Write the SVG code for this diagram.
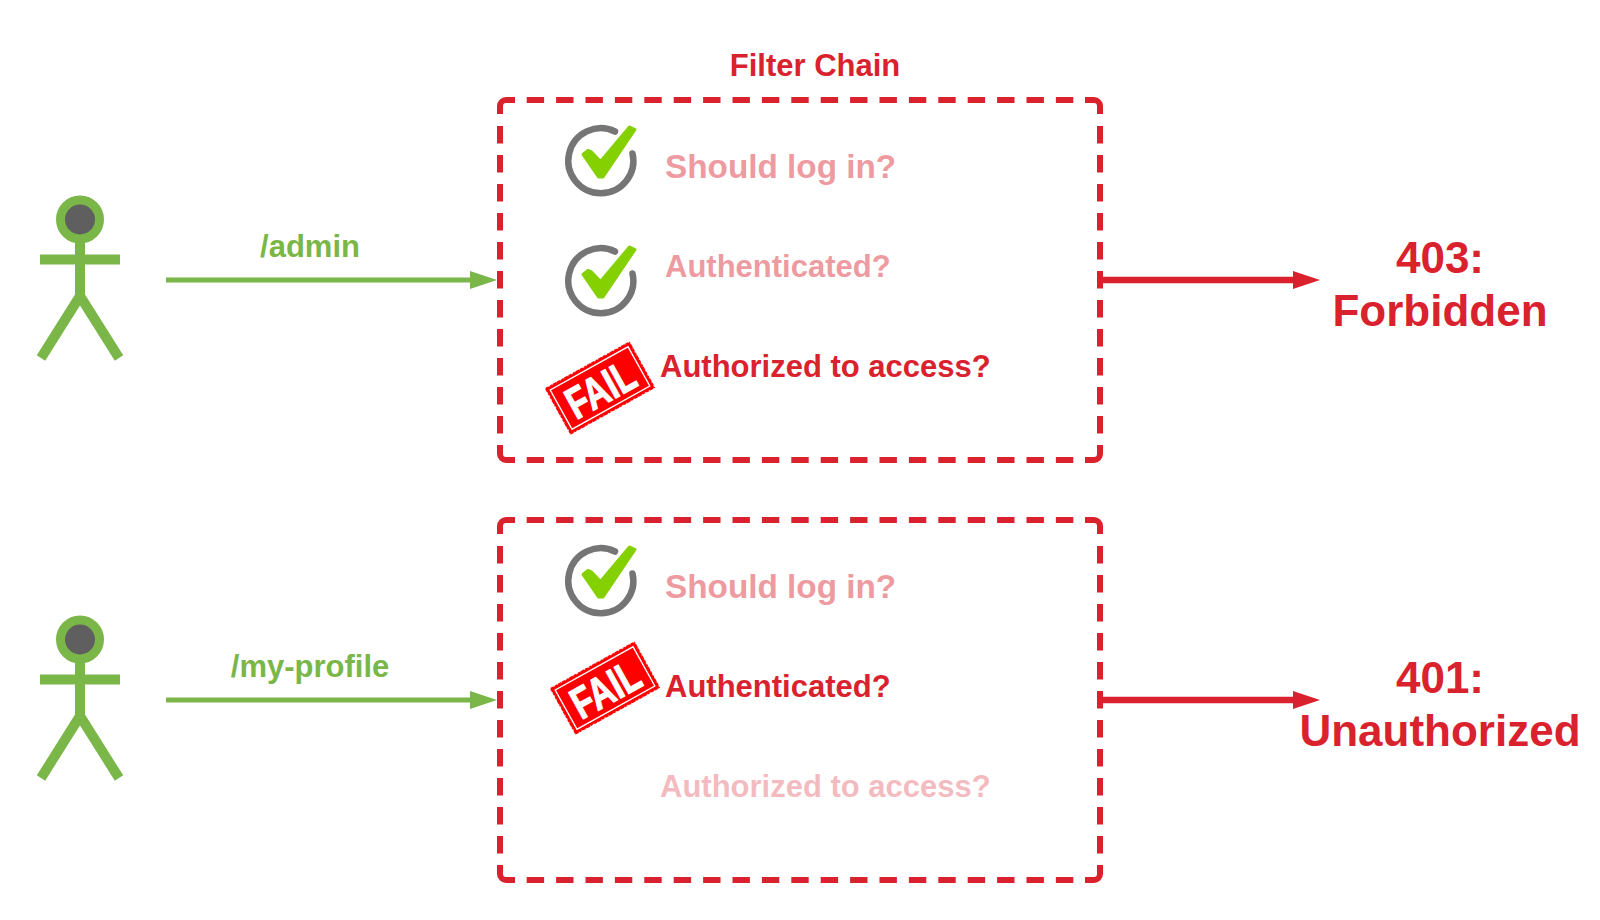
<svg xmlns="http://www.w3.org/2000/svg" width="1600" height="920" viewBox="0 0 1600 920">
<style>
text{font-family:"Liberation Sans",Arial,sans-serif;font-weight:700}
.box{fill:none;stroke:#d9222e;stroke-width:6}
.g{fill:#7ab648}
.r{fill:#d9222e}
.t{font-size:31px;fill:#d9222e}
.s{font-size:33.300px;fill:#d9222e}
.big{font-size:44px;fill:#d9222e;text-anchor:middle}
.lbl{font-size:31px;fill:#7ab648;text-anchor:middle}
.ga{stroke:#7ab648;stroke-width:5;fill:none}
.ra{stroke:#d9222e;stroke-width:6.500;fill:none}
</style>
<defs>
<g id="actor">
<path d="M80 240V296M40 259.500H120M80 296L41 358M80 296L119 358" fill="none" stroke="#7ab648" stroke-width="10"/>
<circle cx="80" cy="219.500" r="19.500" fill="#5f5f5f" stroke="#7ab648" stroke-width="9"/>
</g>
<g id="check">
<path d="M615 131.500A32.500 32.500 0 1 0 632.500 153.500" fill="none" stroke="#757575" stroke-width="6.500" stroke-linecap="round"/>
<path d="M583 154.500L588 150.500L591.500 152L600.500 161.500L629.500 127L635 129.500L603 177L598.500 177Z" fill="#84d000" stroke="#84d000" stroke-width="3" stroke-linejoin="round"/>
</g>
<g id="fail">
<g transform="rotate(-29 600 388)">
<rect x="551.500" y="361.500" width="97" height="53" fill="#fe0000"/>
<rect x="551.500" y="361.500" width="97" height="53" fill="none" stroke="#fff" stroke-width="1.500" stroke-dasharray="1 3 2 2 1 4" opacity=".8"/>
<rect x="555.500" y="365.500" width="89" height="45" fill="none" stroke="#fff" stroke-width="1.300"/>
<text transform="translate(600 404.500) scale(.76 1)" font-size="44" fill="#fff" stroke="#fff" stroke-width="1.200" text-anchor="middle">FAIL</text>
</g>
</g>
<g id="dashbox">
<path class="box" d="M515 100H506A6 6 0 0 0 500 106V114M1085 100H1094A6 6 0 0 1 1100 106V114M515 460H506A6 6 0 0 1 500 454V445M1085 460H1094A6 6 0 0 0 1100 454V445"/>
<path class="box" stroke-dasharray="17.400 12" d="M526.700 100H1073.500M526.700 460H1073.500"/>
<path class="box" stroke-dasharray="17.500 11.500" d="M500 126V433.500M1100 126V433.500"/>
</g>
</defs>
<g id="title"><text x="815" y="76" font-size="31" fill="#d9222e" text-anchor="middle">Filter Chain</text></g>
<g id="connectors">
<path class="ga" d="M166 280H476"/><path class="g" d="M470 271L497 280L470 289Z"/>
<path class="ga" d="M166 700H476"/><path class="g" d="M470 691L497 700L470 709Z"/>
<path class="ra" d="M1100 280H1300"/><path class="r" d="M1293 271L1320 280L1293 289Z"/>
<path class="ra" d="M1100 700H1300"/><path class="r" d="M1293 691L1320 700L1293 709Z"/>
</g>
<g id="actor-admin"><use href="#actor"/></g>
<g id="actor-profile"><use href="#actor" y="420"/></g>
<g id="label-admin"><text class="lbl" x="310" y="256.500">/admin</text></g>
<g id="label-profile"><text class="lbl" x="310" y="676.500">/my-profile</text></g>
<g id="chain-admin">
<use href="#dashbox"/>
<use href="#check"/>
<use href="#check" y="120"/>
<use href="#fail"/>
<text class="s" x="665" y="178" opacity=".45">Should log in?</text>
<text class="t" x="665" y="276.500" opacity=".45">Authenticated?</text>
<text class="t" x="660" y="376.500">Authorized to access?</text>
</g>
<g id="chain-profile">
<use href="#dashbox" y="420"/>
<use href="#check" y="420"/>
<use href="#fail" x="5" y="300"/>
<text class="s" x="665" y="598" opacity=".45">Should log in?</text>
<text class="t" x="665" y="696.500">Authenticated?</text>
<text class="t" x="660" y="796.500" opacity=".3">Authorized to access?</text>
</g>
<g id="result-403"><text class="big" x="1440" y="272.500">403:</text><text class="big" x="1440" y="326">Forbidden</text></g>
<g id="result-401"><text class="big" x="1440" y="692.500">401:</text><text class="big" x="1440" y="746">Unauthorized</text></g>
</svg>
